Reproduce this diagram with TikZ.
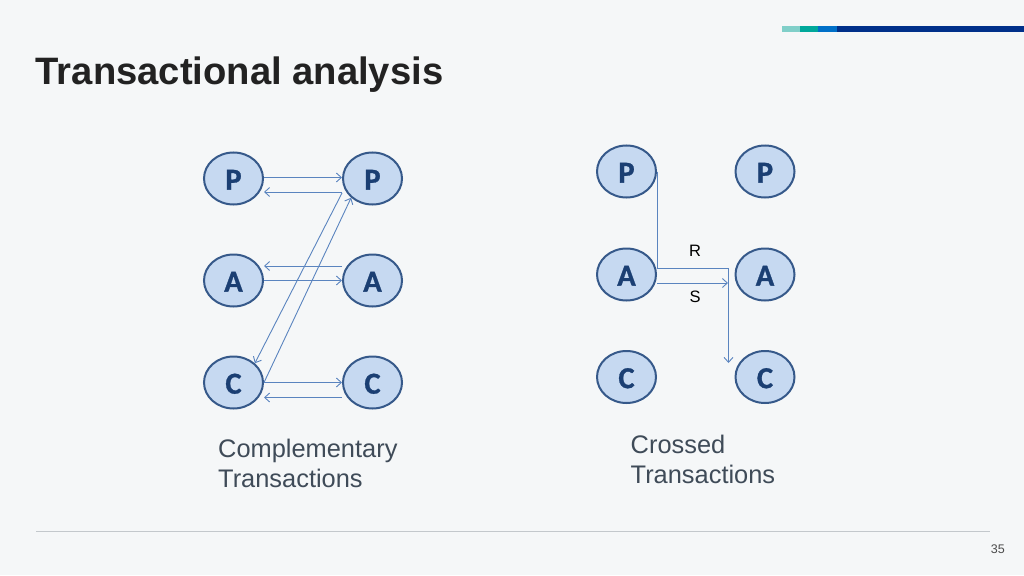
\documentclass[tikz,border=0pt]{standalone}
\usepackage{fontspec}
\setmainfont{Liberation Sans}
\newfontfamily\nodefont{Carlito}[BoldFont=Carlito Bold, BoldFeatures={FakeBold=1}]
\usetikzlibrary{arrows.meta,shapes.geometric}
\definecolor{bgc}{HTML}{F5F7F8}
\definecolor{titlec}{HTML}{222222}
\definecolor{bodyc}{HTML}{3F4B58}
\definecolor{nodefill}{HTML}{C6D9F1}
\definecolor{nodeline}{HTML}{36598A}
\definecolor{nodetext}{HTML}{1B3F73}
\definecolor{connc}{HTML}{5A84BF}
\definecolor{barA}{HTML}{80CFC9}
\definecolor{barB}{HTML}{00A89B}
\definecolor{barC}{HTML}{0070C8}
\definecolor{barD}{HTML}{00308A}
\definecolor{footc}{HTML}{C3C8CC}
\tikzset{
  egostate/.style={ellipse, draw=nodeline, line width=2pt, fill=nodefill,
    minimum width=59pt, minimum height=52pt, inner sep=0pt,
    text height=22.3pt, text depth=0pt,
    text=nodetext, font=\nodefont\bfseries\fontsize{30.5}{30.5}\selectfont},
  conn/.style={draw=connc, line width=0.9pt},
  arr/.style={conn, -{Straight Barb[length=5pt,width=9pt]}},
  caption/.style={anchor=base west, inner sep=0pt, align=left, text=bodyc,
    font=\fontsize{25.4}{30}\selectfont},
  lbl/.style={inner sep=0pt, font=\fontsize{16.5}{16.5}\selectfont, text=black}
}
\begin{document}
\begin{tikzpicture}[x=1pt,y=-1pt]
\fill[bgc] (0,0) rectangle (1024,575);
\useasboundingbox (0,0) rectangle (1024,575);
% top bar
\fill[barA] (781.7,25.7) rectangle (800,31.7);
\fill[barB] (800,25.7) rectangle (818.3,31.7);
\fill[barC] (818.3,25.7) rectangle (836.7,31.7);
\fill[barD] (836.7,25.7) rectangle (1024,31.7);
% title
\node[anchor=base west, inner sep=0pt, text=titlec,
  font=\bfseries\fontsize{38.2}{38.2}\selectfont] (title) at (35.5,84.5) {Transactional analysis};
% footer
\draw[footc, line width=0.8pt] (36,531) -- (990,531);
\node[anchor=base east, inner sep=0pt, text=black!70, font=\fontsize{12.5}{12.5}\selectfont] (pagenum) at (1005,553) {35};

% left diagram
\node[egostate] (PL) at (233.5,178.5) {P};
\node[egostate] (PR) at (372.5,178.5) {P};
\node[egostate] (AL) at (233.5,280.5) {A};
\node[egostate] (AR) at (372.5,280.5) {A};
\node[egostate] (CL) at (233.5,382.5) {C};
\node[egostate] (CR) at (372.5,382.5) {C};

\draw[arr] ([yshift=1pt]PL.east) -- ([yshift=1pt]PR.west);
\draw[arr] ([yshift=-13.5pt]PR.west) -- ([yshift=-13.5pt]PL.east);
\draw[arr] ([yshift=14.5pt]AR.west) -- ([yshift=14.5pt]AL.east);
\draw[arr] (AL.east) -- (AR.west);
\draw[arr] (CL.east) -- (CR.west);
\draw[arr] ([yshift=-15pt]CR.west) -- ([yshift=-15pt]CL.east);
\draw[arr] ([yshift=-14.5pt]PR.west) -- (CL.42);
\draw[arr] (CL.east) -- (PR.222);

\node[caption] (cap1) at (218,487) {Complementary\\Transactions};

% right diagram
\node[egostate] (XPL) at (626.5,171.5) {P};
\node[egostate] (XPR) at (765,171.5) {P};
\node[egostate] (XAL) at (626.5,274.5) {A};
\node[egostate] (XAR) at (765,274.5) {A};
\node[egostate] (XCL) at (626.5,377) {C};
\node[egostate] (XCR) at (765,377) {C};

\coordinate (Rturn) at (728.5,268);
\coordinate (Rend) at (728.5,363);
\coordinate (Send) at (728,283);
\draw[arr] (XPL.east) -- (XPL.east |- Rturn) -- (Rturn) -- (Rend);
\draw[arr] ([yshift=-8.5pt]XAL.east) -- (Send);
\node[lbl] (Rlbl) at (695,251) {R};
\node[lbl] (Slbl) at (695,297) {S};

\node[caption] (cap2) at (630.5,483) {Crossed\\Transactions};
\end{tikzpicture}
\end{document}
